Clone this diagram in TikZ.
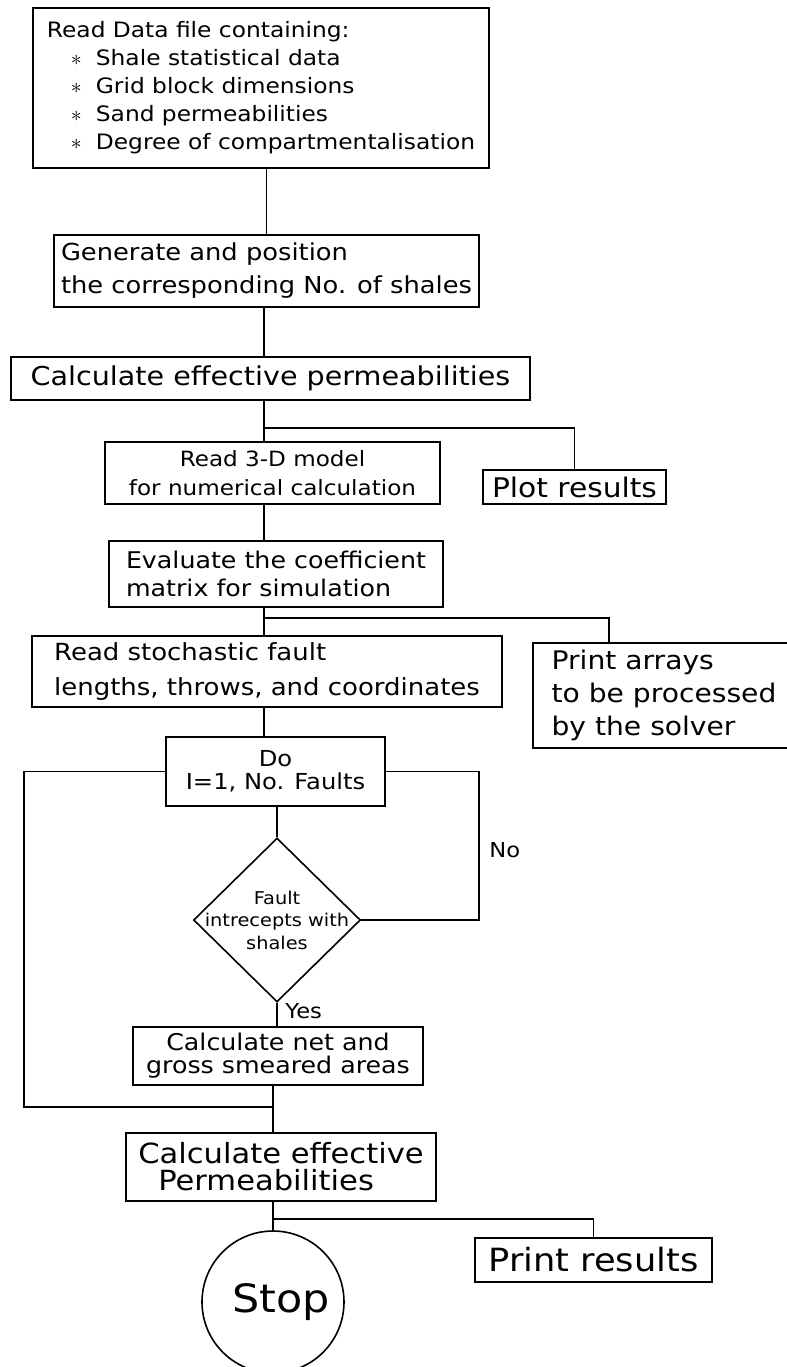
\documentclass[tikz,border=0pt]{standalone}
\usepackage{fontspec}
\newfontfamily\plotfont[FakeStretch=1.1]{DejaVu Sans}
\usetikzlibrary{shapes.geometric}
\newcommand{\plotsize}[2]{\plotfont\fontsize{#1pt}{#2pt}\selectfont}

\begin{document}
\begin{tikzpicture}[
	x=0.5pt, y=-0.5pt,
	% Style for the process boxes
	box/.style={
		rectangle,
		draw=black,
		line width=0.8pt,
		inner sep=0pt,
		align=left
	},
	centrebox/.style={
		box,
		align=center
	},
	% Style for the test and the end
	decision/.style={
		diamond,
		draw=black,
		line width=0.8pt,
		inner sep=0pt
	},
	terminal/.style={
		circle,
		draw=black,
		line width=0.8pt,
		inner sep=0pt,
		minimum size=71pt
	},
	link/.style={line width=0.8pt},
	answer/.style={font=\plotsize{10.3}{12}, inner sep=0pt}
	]
	\useasboundingbox (0,0) rectangle (787,1367);
	
	% Main column of boxes
	\node[box, minimum width=228pt, minimum height=80pt, font=\plotsize{10.6}{14}] (data) at (261,88) {Read Data file containing:\\
		\hspace*{12pt}$\ast$\hspace{7pt}Shale statistical data\\
		\hspace*{12pt}$\ast$\hspace{7pt}Grid block dimensions\\
		\hspace*{12pt}$\ast$\hspace{7pt}Sand permeabilities\\
		\hspace*{12pt}$\ast$\hspace{7pt}Degree of compartmentalisation};
	\node[box, minimum width=212.5pt, minimum height=36pt, font=\plotsize{11.7}{16.5}] (gen) at (266.5,271) {Generate and position\\the corresponding No. of shales};
	\node[box, minimum width=259.5pt, minimum height=21.5pt, font=\plotsize{13}{15}] (calc1) at (270.5,378.5) {Calculate effective permeabilities};
	\node[centrebox, minimum width=167.5pt, minimum height=31pt, font=\plotsize{10.5}{14.5}] (read3d) at (272.5,473) {Read 3-D model\\for numerical calculation};
	\node[box, minimum width=167pt, minimum height=33pt, font=\plotsize{11.5}{14}] (eval) at (276,574) {Evaluate the coefficient\\matrix for simulation};
	\node[box, minimum width=235pt, minimum height=35.5pt, font=\plotsize{11.8}{17.5}] (stoch) at (267,671.5) {Read stochastic fault\\lengths, throws, and coordinates};
	\node[centrebox, minimum width=109.5pt, minimum height=34.5pt, font=\plotsize{11}{11.5}] (doloop) at (275.5,771.5) {Do\\I=1, No. Faults};
	\node[decision, minimum width=83.5pt, minimum height=82pt,
		label={[font=\plotsize{8.8}{11.25}, align=center]center:{Fault\\intrecepts with\\shales}}] (fault) at (277,920) {};
	\node[centrebox, minimum width=145pt, minimum height=29pt, font=\plotsize{11.5}{11.5}] (netgross) at (278,1056) {Calculate net and\\gross smeared areas};
	\node[box, minimum width=155pt, minimum height=34pt, font=\plotsize{13.9}{13.5}] (calc2) at (281,1167) {Calculate effective\\\hspace*{10pt}Permeabilities};
	\node[terminal, font=\plotsize{19.5}{22}] (stop) at (273,1302) {\hspace*{8pt}Stop};
	
	% Side boxes
	\node[box, minimum width=91.5pt, minimum height=17pt, font=\plotsize{13.5}{15}] (plot) at (574.5,487) {Plot results};
	\node[box, minimum width=131pt, minimum height=52.5pt, font=\plotsize{12.8}{16.5}] (arrays) at (664,695.5) {Print arrays\\to be processed\\by the solver};
	\node[box, minimum width=118.5pt, minimum height=22pt, font=\plotsize{16}{18}] (printres) at (593.5,1260) {Print results};
	
	% Answers of the test
	\node[answer, anchor=west] (no) at (489,850) {No};
	\node[answer, anchor=base west] (yes) at (285,1018) {Yes};
	
	% Connectors
	\coordinate (trunkA) at (264,0);
	\coordinate (trunkB) at (273,0);
	\draw[link] (gen.north) -- (gen.north |- data.south);
	\draw[link] (gen.south -| trunkA) -- (calc1.north -| trunkA);
	\draw[link] (calc1.south -| trunkA) -- (read3d.north -| trunkA);
	\coordinate (plotj) at (264,428);
	\draw[link] (plotj) -| (plot.north);
	\draw[link] (read3d.south -| trunkA) -- (eval.north -| trunkA);
	\draw[link] (eval.south -| trunkA) -- (stoch.north -| trunkA);
	\coordinate (arraysj) at (609,618);
	\draw[link] (arraysj -| trunkA) -- (arraysj) -- (arraysj |- arrays.north);
	\draw[link] (stoch.south -| trunkA) -- (doloop.north -| trunkA);
	\draw[link] (doloop.south -| fault.north) -- (fault.north);
	\coordinate (loopL) at (24,1107);
	\draw[link] (doloop.west) -| (loopL) -- (loopL -| trunkB);
	\coordinate (loopR) at (479,0);
	\draw[link] (doloop.east) -- (doloop.east -| loopR) |- (fault.east);
	\draw[link] (fault.south) -- (fault.south |- netgross.north);
	\draw[link] (netgross.south -| trunkB) -- (calc2.north -| trunkB);
	\draw[link] (calc2.south -| trunkB) -- (stop.north);
	\coordinate (resj) at (273,1219);
	\draw[link] (resj) -| (printres.north);
	
\end{tikzpicture}
\end{document}
